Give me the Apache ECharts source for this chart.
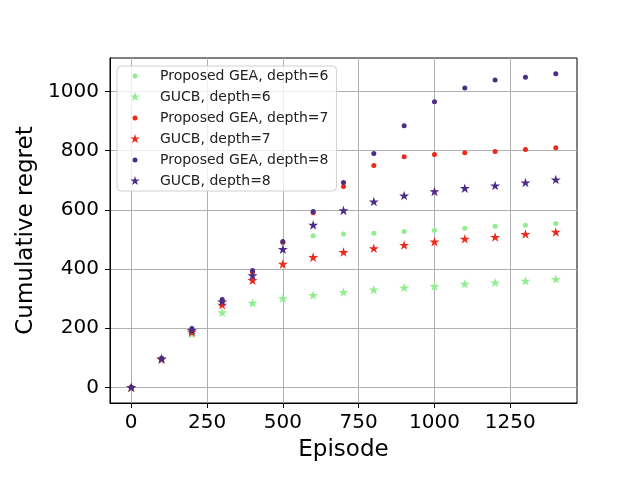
<!DOCTYPE html>
<html>
<head>
<meta charset="utf-8">
<script src="https://cdn.jsdelivr.net/npm/echarts@6/dist/echarts.min.js"></script>
<style>
  html, body { margin: 0; padding: 0; background: #fff; }
  #chart { width: 640px; height: 480px; }
</style>
</head>
<body>
<div id="chart"></div>
<script>
const episodes = [0, 100, 200, 300, 400, 500, 600, 700, 800, 900, 1000, 1100, 1200, 1300, 1400];
const geaDepth6 = [0, 97, 185, 290, 390, 488, 512, 518, 521, 527, 531, 538, 544, 548, 554];
const gucbDepth6 = [0, 96, 181, 253, 285, 301, 312, 322, 330, 337, 342, 350, 354, 360, 366];
const geaDepth7 = [0, 97, 192, 292, 390, 490, 590, 679, 750, 779, 787, 793, 797, 804, 810];
const gucbDepth7 = [0, 95, 187, 279, 362, 417, 440, 457, 470, 481, 492, 502, 508, 518, 525];
const geaDepth8 = [0, 98, 199, 297, 395, 493, 594, 692, 790, 884, 965, 1012, 1039, 1048, 1060];
const gucbDepth8 = [0, 97, 193, 290, 378, 467, 549, 598, 628, 648, 662, 673, 682, 692, 702];
const xTicks = [0, 250, 500, 750, 1000, 1250];
const yTicks = [0, 200, 400, 600, 800, 1000];

const GREEN = '#90ee90';
const RED = '#ee2a1a';
const PURPLE = '#4b2c88';

// star shape like matplotlib's '*'
const STAR = 'path://M5,0L6.123,3.455L9.755,3.455L6.817,5.59L7.939,9.045L5,6.91L2.061,9.045L3.183,5.59L0.245,3.455L3.877,3.455Z';
// legend icons padded with empty moves so they stay small inside the item box
const PAD = 'M-2,-2L-2,-2M12,12L12,12';
const STAR_ICON = STAR + PAD;
const DOT_ICON = 'path://M7.5,5A2.5,2.5 0 1,1 2.5,5A2.5,2.5 0 1,1 7.5,5Z' + PAD;

function pairs(values) {
  return episodes.map((x, i) => [x, values[i]]);
}

function dots(name, values, color) {
  return {
    name, type: 'scatter', data: pairs(values),
    symbol: 'circle', symbolSize: 5,
    itemStyle: { color, opacity: 1 },
    emphasis: { disabled: true }
  };
}

function stars(name, values, color) {
  return {
    name, type: 'scatter', data: pairs(values),
    symbol: STAR, symbolSize: 10, symbolKeepAspect: true,
    itemStyle: { color, opacity: 1 },
    emphasis: { disabled: true }
  };
}

const series = [
  dots('Proposed GEA, depth=6', geaDepth6, GREEN),
  stars('GUCB, depth=6', gucbDepth6, GREEN),
  dots('Proposed GEA, depth=7', geaDepth7, RED),
  stars('GUCB, depth=7', gucbDepth7, RED),
  dots('Proposed GEA, depth=8', geaDepth8, PURPLE),
  stars('GUCB, depth=8', gucbDepth8, PURPLE)
];

const font = 'DejaVu Sans';
const gridLine = { show: true, lineStyle: { color: '#b0b0b0', width: 1 } };
const plain = v => String(v);

const chart = echarts.init(document.getElementById('chart'), null, { renderer: 'canvas' });
chart.setOption({
  animation: false,
  backgroundColor: '#fff',
  textStyle: { fontFamily: font },
  grid: {
    left: 110, right: 63, top: 58, bottom: 77,
    show: true, borderColor: '#000', borderWidth: 1, backgroundColor: 'transparent'
  },
  legend: {
    orient: 'vertical', left: 117, top: 66,
    itemWidth: 14, itemHeight: 14, itemGap: 7,
    padding: [3, 8, 3, 11],
    backgroundColor: 'rgba(255,255,255,0.8)',
    borderColor: '#d0d0d0', borderWidth: 1, borderRadius: 4,
    textStyle: { fontFamily: font, fontSize: 14, color: '#222', padding: [0, 0, 0, 13] },
    data: series.map(s => ({ name: s.name, icon: s.symbol === 'circle' ? DOT_ICON : STAR_ICON }))
  },
  xAxis: {
    type: 'value', min: -70, max: 1470,
    name: 'Episode', nameLocation: 'middle', nameGap: 36,
    nameTextStyle: { fontFamily: font, fontSize: 23, color: '#000' },
    axisLine: { show: true, onZero: false, lineStyle: { color: '#000' } },
    axisTick: { show: true, inside: false, length: 5, customValues: xTicks, lineStyle: { color: '#000' } },
    axisLabel: { customValues: xTicks, formatter: plain, margin: 10, fontFamily: font, fontSize: 20, color: '#000' },
    splitLine: Object.assign({ customValues: xTicks }, gridLine)
  },
  yAxis: {
    type: 'value', min: -53, max: 1113,
    name: 'Cumulative regret', nameLocation: 'middle', nameGap: 57,
    nameTextStyle: { fontFamily: font, fontSize: 23, color: '#000' },
    axisLine: { show: true, onZero: false, lineStyle: { color: '#000' } },
    axisTick: { show: true, inside: false, length: 5, customValues: yTicks, lineStyle: { color: '#000' } },
    axisLabel: { customValues: yTicks, formatter: plain, margin: 11, fontFamily: font, fontSize: 20, color: '#000' },
    splitLine: Object.assign({ customValues: yTicks }, gridLine)
  },
  series
});
</script>
</body>
</html>
